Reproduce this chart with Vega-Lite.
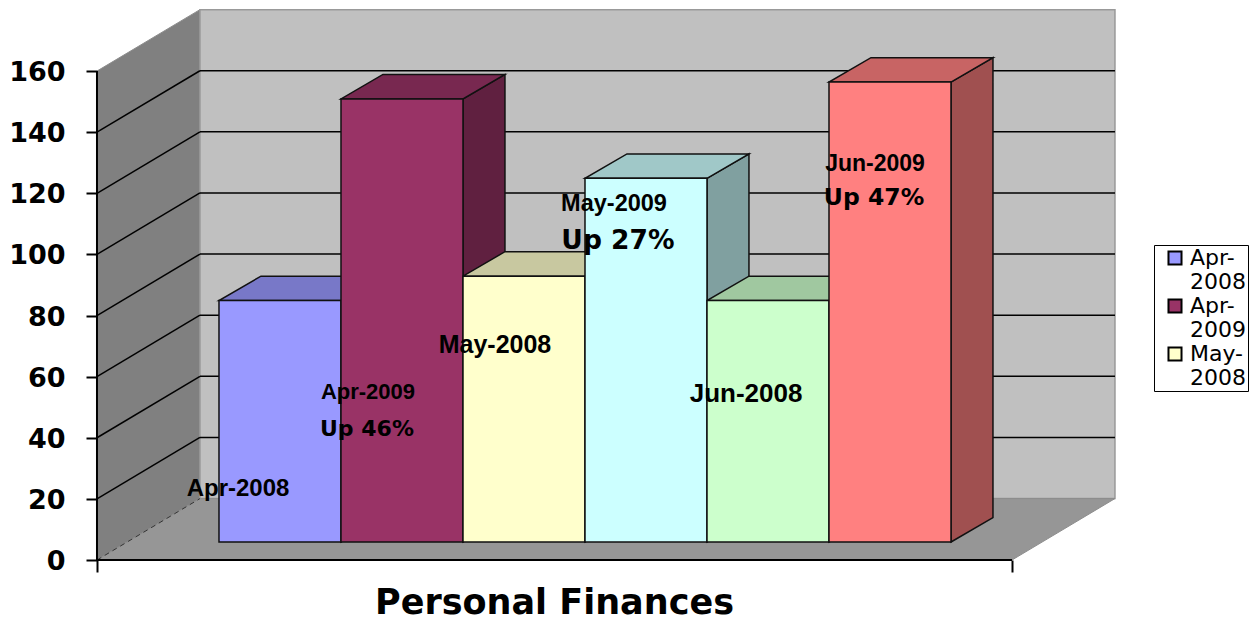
{
"$schema":"https://vega.github.io/schema/vega-lite/v6.json",
"width":1256,"height":622,"padding":0,"autosize":{"type":"none"},
"background":"white",
"config":{"view":{"stroke":null}},
"datasets":{
"bars":[
{"series":"Apr-2008","slot":0,"value":79},
{"series":"Apr-2009","slot":1,"value":145},
{"series":"May-2008","slot":2,"value":87},
{"series":"May-2009","slot":3,"value":119},
{"series":"Jun-2008","slot":4,"value":79},
{"series":"Jun-2009","slot":5,"value":150.5}],
"grid":[{"level":20},{"level":40},{"level":60},{"level":80},{"level":100},{"level":120},{"level":140}],
"leftWall":[{"a":0,"lo":0,"hi":160},{"a":0.844,"lo":20.1,"hi":180.1}],
"backWall":[{"a":0.844,"lo":20.1,"hi":180.1},{"a":8.344,"lo":20.1,"hi":180.1}],
"floor":[{"a":0,"lo":0,"hi":0},{"a":0.844,"lo":0,"hi":20.1},{"a":7.5,"lo":0,"hi":20.1},{"a":8.344,"lo":20.1,"hi":20.1}],
"names":[
{"text":"Apr-2008","a":1.156,"b":23.3},
{"text":"Apr-2009","a":2.221,"b":55},
{"text":"May-2008","a":3.262,"b":70.4},
{"text":"May-2009","a":4.238,"b":116.5},
{"text":"Jun-2008","a":5.32,"b":54.3},
{"text":"Jun-2009","a":6.377,"b":129.6}],
"changes":[
{"text":"Up 46%","a":2.213,"b":43},
{"text":"Up 27%","a":4.27,"b":104.5},
{"text":"Up 47%","a":6.369,"b":118.6}]
},
"resolve":{"scale":{"color":"independent","size":"independent"}},
"layer":[
{"data":{"name":"leftWall"},"mark":{"type":"area","fill":"#808080","stroke":"#8c8c8c","strokeWidth":1},
 "encoding":{
  "x":{"field":"a","type":"quantitative","scale":{"domain":[-0.795,9.5],"nice":false,"zero":false},
   "axis":{"values":[0,7.5],"labels":false,"domain":false,"grid":false,"ticks":true,"tickSize":12,"tickWidth":2,"tickColor":"#000000","offset":-62,"zindex":1,
    "title":"Personal Finances","titleFont":"DejaVu Sans","titleFontWeight":"bold","titleFontSize":35,"titleColor":"#000000","titleX":554,"titleY":53,"titleAnchor":"middle","titleAlign":"center","titleBaseline":"alphabetic"}},
  "y":{"field":"lo","type":"quantitative","stack":null,"scale":{"domain":[-20.29,183.25],"nice":false,"zero":false},
   "axis":{"values":[0,20,40,60,80,100,120,140,160],"domain":false,"grid":false,"tickSize":11,"tickWidth":2,"tickColor":"#000000","offset":-97,"labelPadding":21,"labelOffset":1.5,"labelFont":"DejaVu Sans","labelFontWeight":"bold","labelFontSize":27,"labelColor":"#000000","title":null}},
  "y2":{"field":"hi"}}},
{"data":{"name":"backWall"},"mark":{"type":"area","fill":"#c0c0c0","stroke":"#999999","strokeWidth":1.5},
 "encoding":{"x":{"field":"a","type":"quantitative"},"y":{"field":"lo","type":"quantitative","stack":null},"y2":{"field":"hi"}}},
{"data":{"name":"floor"},"mark":{"type":"area","fill":"#969696","stroke":"#8c8c8c","strokeWidth":1},
 "encoding":{"x":{"field":"a","type":"quantitative"},"y":{"field":"lo","type":"quantitative","stack":null},"y2":{"field":"hi"}}},
{"data":{"name":"grid"},"transform":[{"calculate":"datum.level+20.1","as":"upper"},{"calculate":"0","as":"from"},{"calculate":"0.844","as":"to"}],
 "mark":{"type":"rule","color":"#000000","strokeWidth":1.5},
 "encoding":{"x":{"field":"from","type":"quantitative"},"x2":{"field":"to"},"y":{"field":"level","type":"quantitative"},"y2":{"field":"upper"}}},
{"data":{"name":"grid"},"transform":[{"calculate":"datum.level+20.1","as":"upper"},{"calculate":"0.844","as":"from"},{"calculate":"8.344","as":"to"}],
 "mark":{"type":"rule","color":"#000000","strokeWidth":1.5},
 "encoding":{"x":{"field":"from","type":"quantitative"},"x2":{"field":"to"},"y":{"field":"upper","type":"quantitative"}}},
{"data":{"values":[{"from":0,"to":0.844,"lo":0,"hi":20.1}]},
 "mark":{"type":"rule","color":"#333333","strokeWidth":1,"strokeDash":[5,4]},
 "encoding":{"x":{"field":"from","type":"quantitative"},"x2":{"field":"to"},"y":{"field":"lo","type":"quantitative"},"y2":{"field":"hi"}}},
{"data":{"values":[{"from":0,"lo":0,"hi":160}]},
 "mark":{"type":"rule","color":"#000000","strokeWidth":2},
 "encoding":{"x":{"field":"from","type":"quantitative"},"y":{"field":"lo","type":"quantitative"},"y2":{"field":"hi"}}},
{"data":{"values":[{"from":0,"to":7.5,"lo":0}]},
 "mark":{"type":"rule","color":"#000000","strokeWidth":2},
 "encoding":{"x":{"field":"from","type":"quantitative"},"x2":{"field":"to"},"y":{"field":"lo","type":"quantitative"}}},
{"data":{"name":"bars"},
 "transform":[{"calculate":"[0,1]","as":"c"},{"flatten":["c"]},
  {"calculate":"datum.slot+2+datum.c*0.344","as":"a"},
  {"calculate":"5.89+datum.c*8","as":"lo"},
  {"calculate":"5.89+datum.value+datum.c*8","as":"hi"}],
 "mark":{"type":"area","stroke":"#111111","strokeWidth":1.5},
 "encoding":{"x":{"field":"a","type":"quantitative"},"y":{"field":"lo","type":"quantitative","stack":null},"y2":{"field":"hi"},
  "color":{"field":"series","type":"nominal","legend":null,"scale":{"domain":["Apr-2008","Apr-2009","May-2008","May-2009","Jun-2008","Jun-2009"],"range":["#6060a0","#602040","#a0a080","#80a0a0","#80a080","#a05050"]}}}},
{"data":{"name":"bars"},
 "transform":[{"calculate":"[0,1,2,3]","as":"c"},{"flatten":["c"]},
  {"calculate":"datum.slot+1+[0,0.344,1,1.344][datum.c]","as":"a"},
  {"calculate":"5.89+datum.value+[0,0,0,8][datum.c]","as":"lo"},
  {"calculate":"5.89+datum.value+[0,8,8,8][datum.c]","as":"hi"}],
 "mark":{"type":"area","stroke":"#111111","strokeWidth":1.5},
 "encoding":{"x":{"field":"a","type":"quantitative"},"y":{"field":"lo","type":"quantitative","stack":null},"y2":{"field":"hi"},
  "color":{"field":"series","type":"nominal","legend":null,"scale":{"domain":["Apr-2008","Apr-2009","May-2008","May-2009","Jun-2008","Jun-2009"],"range":["#7878c8","#782850","#c8c8a0","#a0c8c8","#a0c8a0","#c86464"]}}}},
{"data":{"name":"bars"},
 "transform":[{"calculate":"datum.slot+1","as":"a"},{"calculate":"datum.slot+2","as":"a2"},{"calculate":"5.89","as":"lo"},{"calculate":"5.89+datum.value","as":"hi"}],
 "mark":{"type":"rect","stroke":"#111111","strokeWidth":1.5},
 "encoding":{"x":{"field":"a","type":"quantitative"},"x2":{"field":"a2"},"y":{"field":"lo","type":"quantitative","stack":null},"y2":{"field":"hi"},
  "color":{"field":"series","type":"nominal",
   "scale":{"domain":["Apr-2008","Apr-2009","May-2008","May-2009","Jun-2008","Jun-2009"],"range":["#9999ff","#993366","#ffffcc","#ccffff","#ccffcc","#ff8080"]},
   "legend":{"values":["Apr-2008","Apr-2009","May-2008"],"title":null,"orient":"none","legendX":1154,"legendY":245,"fillColor":"#ffffff","strokeColor":"#000000","padding":2,
    "symbolType":"square","symbolSize":170,"symbolStrokeColor":"#000000","symbolStrokeWidth":2,"symbolOpacity":1,"symbolOffset":8,
    "labelFont":"DejaVu Sans","labelFontSize":22,"labelColor":"#000000","labelLimit":200,"labelOffset":4,"rowPadding":2,
    "labelExpr":"[slice(datum.label,0,4),slice(datum.label,4)]"}}}},
{"data":{"name":"names"},
 "mark":{"type":"text","font":"Liberation Sans","fontWeight":"bold","color":"#000000","baseline":"middle","align":"center"},
 "encoding":{"x":{"field":"a","type":"quantitative"},"y":{"field":"b","type":"quantitative"},"text":{"field":"text"},
  "size":{"field":"text","type":"nominal","legend":null,"scale":{"type":"ordinal","domain":["Apr-2008","Apr-2009","May-2008","May-2009","Jun-2008","Jun-2009"],"range":[24,22,25,23.5,26,23]}}}},
{"data":{"name":"changes"},
 "mark":{"type":"text","font":"DejaVu Sans","fontWeight":"bold","color":"#000000","baseline":"middle","align":"center"},
 "encoding":{"x":{"field":"a","type":"quantitative"},"y":{"field":"b","type":"quantitative"},"text":{"field":"text"},
  "size":{"field":"text","type":"nominal","legend":null,"scale":{"type":"ordinal","domain":["Up 46%","Up 27%","Up 47%"],"range":[22,26.5,23.5]}}}}
]
}
